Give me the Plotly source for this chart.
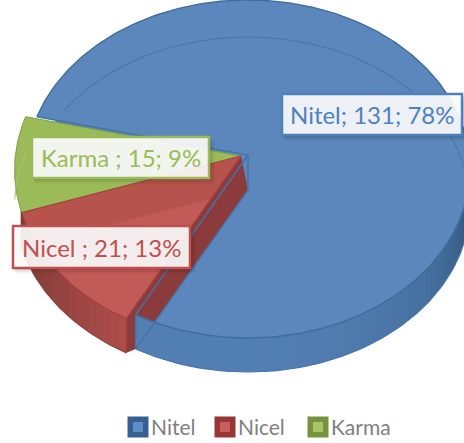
import numpy as np
import plotly.graph_objects as go

# chart values
categories = ["Nitel", "Nicel", "Karma"]
label_names = ["Nitel", "Nicel ", "Karma "]
values = [131, 21, 15]
percents = [78, 13, 9]

# colours per slice: face, edge, text, legend outer, legend inner
face = ["#5c87bc", "#c25b58", "#9bbb59"]
edge = ["#4473a8", "#a5413e", "#7f9f45"]
text_col = ["#4f81bd", "#c0504d", "#9bbb59"]
legend_outer = ["#366092", "#953735", "#76923c"]
legend_inner = ["#5f8ec6", "#c95f5c", "#a6c468"]

WIDTH, HEIGHT = 464, 443
START = 288.0
DEPTH = 35.0
RX, RY = 222.0, 169.0
RY_BOTTOM = 167.5
APEX_UP = 14.0  # perspective moves the pie centre up from the ellipse centre
CX, CY = 248.0, 169.0
EXPLODE_X, EXPLODE_Y = -7.0, 1.0
EXPLODE_SCALE = 1.02


def rim(theta, dx=0.0, bottom=False):
    t = np.radians(theta)
    cy = CY + DEPTH + 0.5 if bottom else CY
    ry = RY_BOTTOM if bottom else RY
    s = EXPLODE_SCALE if dx else 1.0
    return CX + dx + s * RX * np.sin(t), cy + (EXPLODE_Y if dx else 0) - s * ry * np.cos(t)


def apex(dx=0.0, bottom=False):
    y = CY - APEX_UP + (EXPLODE_Y if dx else 0)
    return CX + dx, y + DEPTH if bottom else y


def arc(a, b, dx=0.0, bottom=False):
    return rim(np.linspace(a, b, max(int(abs(b - a)) + 2, 3)), dx, bottom)


def mix(c1, c2, f):
    a = [int(c1[i:i + 2], 16) for i in (1, 3, 5)]
    b = [int(c2[i:i + 2], 16) for i in (1, 3, 5)]
    return "rgb(%d,%d,%d)" % tuple(a[i] + (b[i] - a[i]) * f for i in range(3))


fig = go.Figure()


def poly(x, y, fill, line=None, width=1):
    fig.add_trace(go.Scatter(x=list(x), y=list(y), mode="lines", fill="toself", fillcolor=fill,
                             line=dict(color=line or fill, width=width if line else 0),
                             hoverinfo="skip", showlegend=False))


def stroke(x, y, color, width=1.2):
    fig.add_trace(go.Scatter(x=list(x), y=list(y), mode="lines", line=dict(color=color, width=width),
                             hoverinfo="skip", showlegend=False))


def sector(a, b, dx, bottom, fill, line=None):
    ax, ay = apex(dx, bottom)
    rx, ry = arc(a, b, dx, bottom)
    poly([ax, *rx, ax], [ay, *ry, ay], fill, line)


def wall(a, b, dx, c_a, c_b, power=1.0):
    # outer wall drawn as small quads so the shading runs along the rim
    steps = np.linspace(a, b, int(abs(b - a) / 2.5) + 2)
    for i in range(len(steps) - 1):
        t0, t1 = steps[i], steps[i + 1] + 1.0 * np.sign(b - a)
        x0, y0 = rim(t0, dx)
        x1, y1 = rim(t1, dx)
        x2, y2 = rim(t1, dx, True)
        x3, y3 = rim(t0, dx, True)
        poly([x0, x1, x2, x3, x0], [y0, y1, y2, y3, y0], mix(c_a, c_b, (i / (len(steps) - 2)) ** power))


angles = START + np.cumsum([0] + values) * 360.0 / sum(values)
blue_a, blue_b = angles[0], angles[1]
red_a, red_b = angles[1] - 360, angles[2] - 360
green_a, green_b = angles[2] - 360, angles[3] - 360
blue_end = blue_b - 360

ax2, ay2 = apex(0, True)
ax3, ay3 = apex()
tx0, ty0 = rim(blue_a)
tx1, ty1 = rim(blue_end)
bx1, by1 = rim(blue_end, 0, True)

# blue slice, back part and top face
sector(blue_a - 360, blue_end, 0, False, face[0])
sector(blue_a - 360, blue_end, 0, True, face[0])

# green slice
sector(green_a, green_b, EXPLODE_X, False, face[2], edge[2])
x, y = arc(green_b - 16, green_b, EXPLODE_X, True)
stroke(x, y, "#a9c46e", 1)

# red slice
sector(red_a, red_b, EXPLODE_X, False, "#b5534c")
sector(red_a, red_b, EXPLODE_X, True, face[1])
wall(red_a, red_b, EXPLODE_X, "#ad4c49", "#7d3a38")
ax0, ay0 = apex(EXPLODE_X)
px0, py0 = rim(red_a, EXPLODE_X)
px1, py1 = rim(red_a, EXPLODE_X, True)
# cut wall of the red slice reaches the lower blue edge
poly([ax0, ax2, bx1, px1, px0, ax0], [ay0, ay2, by1, py1, py0, ay0], "#8c3b3c")
x, y = arc(red_a, red_b, EXPLODE_X)
stroke([ax0, *x, ax0], [ay0, *y, ay0], edge[1])
x, y = arc(red_a, red_b, EXPLODE_X, True)
stroke(x, y, "#96403d")
stroke([px0, px1], [py0, py1], edge[1])

# blue front part goes over the red cut wall
x, y = arc(blue_end, 0, 0, True)
poly([ax2, *x, ax2], [ay2, *y, ay2], face[0])
wall(blue_end, 90, 0, "#5380b4", "#2c4f74", 3.0)

# blue outlines
stroke([tx0, ax3, ax3, bx1, tx1, ax3], [ty0, ay3, ay2, by1, ty1, ay3], "#4473a8", 1.4)
x, y = arc(blue_a - 360, blue_end)
stroke(x, y, "#3f6c9f", 1.4)
x, y = arc(blue_a - 360 + 16, blue_end, 0, True)
stroke(x, y, "#4a78ad", 1.2)

# legend drawn on the same axes
legend_x = [138, 225, 318]
legend_y = [427, 427, 427]
fig.add_trace(go.Scatter(x=legend_x, y=legend_y, mode="markers", hoverinfo="skip", showlegend=False,
                         marker=dict(symbol="square", size=21, color=legend_outer)))
fig.add_trace(go.Scatter(x=legend_x, y=legend_y, mode="markers", hoverinfo="skip", showlegend=False,
                         marker=dict(symbol="square", size=10, color=legend_inner)))
for name, lx in zip(categories, legend_x):
    fig.add_annotation(x=lx + 11, y=426.5, text=name, showarrow=False, xanchor="left",
                       font=dict(family="Lato", size=21, color="#7f7f7f"))

# data labels
label_boxes = [(282, 94, 462, 135), (13, 226, 190, 268), (32, 137, 209, 178)]
for i, (x0, y0, x1, y1) in enumerate(label_boxes):
    for k, a in zip((2, 4, 6), (0.10, 0.06, 0.04)):
        fig.add_shape(type="rect", x0=x0 + k / 2, y0=y0 + k, x1=x1 + k, y1=y1 + k,
                      fillcolor="rgba(0,0,0,%g)" % a, line_width=0)
    fig.add_shape(type="rect", x0=x0, y0=y0, x1=x1, y1=y1, fillcolor="rgba(255,255,255,0.9)",
                  line=dict(color=text_col[i], width=2.5))
    fig.add_annotation(x=(x0 + x1) / 2, y=(y0 + y1) / 2, showarrow=False,
                       text="%s; %d; %d%%" % (label_names[i], values[i], percents[i]),
                       font=dict(family="Lato", size=24, color=text_col[i]))

fig.update_layout(width=WIDTH, height=HEIGHT, margin=dict(l=0, r=0, t=0, b=0), autosize=False,
                  paper_bgcolor="white", plot_bgcolor="white", showlegend=False,
                  xaxis=dict(range=[0, WIDTH], visible=False, fixedrange=True),
                  yaxis=dict(range=[HEIGHT, 0], visible=False, fixedrange=True))

# the page's default body margin would push the chart off the window
fig.write_html("out.html", config=dict(displayModeBar=False),
               post_script="document.body.style.margin='0';document.documentElement.style.overflow='hidden';")
